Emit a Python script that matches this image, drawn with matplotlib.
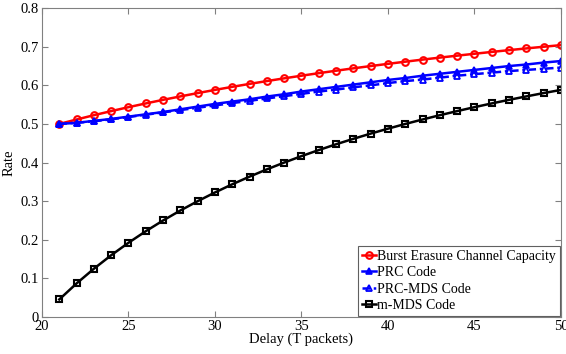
import matplotlib
matplotlib.use("Agg")
import matplotlib.pyplot as plt

delay = list(range(21, 51))

capacity = [0.5000, 0.5116, 0.5227, 0.5333, 0.5435, 0.5532, 0.5625, 0.5714, 0.5800, 0.5882,
            0.5962, 0.6038, 0.6111, 0.6182, 0.6250, 0.6316, 0.6379, 0.6441, 0.6500, 0.6557,
            0.6613, 0.6667, 0.6719, 0.6769, 0.6818, 0.6866, 0.6912, 0.6957, 0.7000, 0.7042]

prc = [0.500, 0.503, 0.508, 0.513, 0.519, 0.525, 0.531, 0.538, 0.545, 0.552,
       0.558, 0.564, 0.571, 0.577, 0.584, 0.590, 0.596, 0.602, 0.608, 0.614,
       0.619, 0.625, 0.630, 0.635, 0.640, 0.645, 0.650, 0.654, 0.659, 0.663]

prc_mds = [0.500, 0.503, 0.507, 0.512, 0.518, 0.524, 0.530, 0.536, 0.542, 0.548,
           0.554, 0.560, 0.566, 0.572, 0.578, 0.584, 0.589, 0.595, 0.600, 0.606,
           0.611, 0.615, 0.620, 0.625, 0.629, 0.633, 0.637, 0.640, 0.643, 0.646]

m_mds = [0.0455, 0.0870, 0.1250, 0.1600, 0.1923, 0.2222, 0.2500, 0.2759, 0.3000, 0.3226,
         0.3438, 0.3636, 0.3824, 0.4000, 0.4167, 0.4324, 0.4474, 0.4615, 0.4750, 0.4878,
         0.5000, 0.5116, 0.5227, 0.5333, 0.5435, 0.5532, 0.5625, 0.5714, 0.5800, 0.5882]

plt.rcParams['font.family'] = ['Liberation Serif', 'DejaVu Serif']

fig = plt.figure(figsize=(5.66, 3.54), dpi=100)
ax = fig.add_axes([0.0742, 0.1045, 0.9168, 0.8725])

ax.plot(delay, capacity, '-o', color='red', lw=1.8, ms=4.8, mfc='none', mew=1.5,
        label='Burst Erasure Channel Capacity')
ax.plot(delay, prc, '-^', color='blue', lw=1.8, ms=5, mew=1.2,
        label='PRC Code')
ax.plot(delay, prc_mds, '-.^', color='blue', lw=1.8, ms=5, mew=1.3, mfc='none',
        label='PRC-MDS Code', dashes=(3, 1.5, 1, 1.5))
ax.plot(delay, m_mds, '-s', color='black', lw=1.8, ms=4.5, mfc='none', mew=1.5,
        label='m-MDS Code')

ax.set_xlim(20, 50)
ax.set_ylim(0, 0.8)
ax.set_xticks([20, 25, 30, 35, 40, 45, 50])
ax.set_yticks([0, 0.1, 0.2, 0.3, 0.4, 0.5, 0.6, 0.7, 0.8])
ax.set_yticklabels(['0', '0.1', '0.2', '0.3', '0.4', '0.5', '0.6', '0.7', '0.8'])
ax.tick_params(direction='in', top=True, right=True, labelsize=10.5, length=4,
               color='#808080', pad=2)
for s in ax.spines.values():
    s.set_color('#808080')

ax.set_xlabel('Delay (T packets)', fontsize=10.5, labelpad=0)
ax.set_ylabel('Rate', fontsize=10.5, labelpad=4)

leg = ax.legend(loc='lower right', fontsize=10, handlelength=1.0, handletextpad=0.1,
                borderpad=0.25, labelspacing=0.25, borderaxespad=0.1, fancybox=False,
                framealpha=1)
leg.get_frame().set_edgecolor('#606060')
leg.get_frame().set_linewidth(0.8)

fig.savefig('out.png', dpi=100)
